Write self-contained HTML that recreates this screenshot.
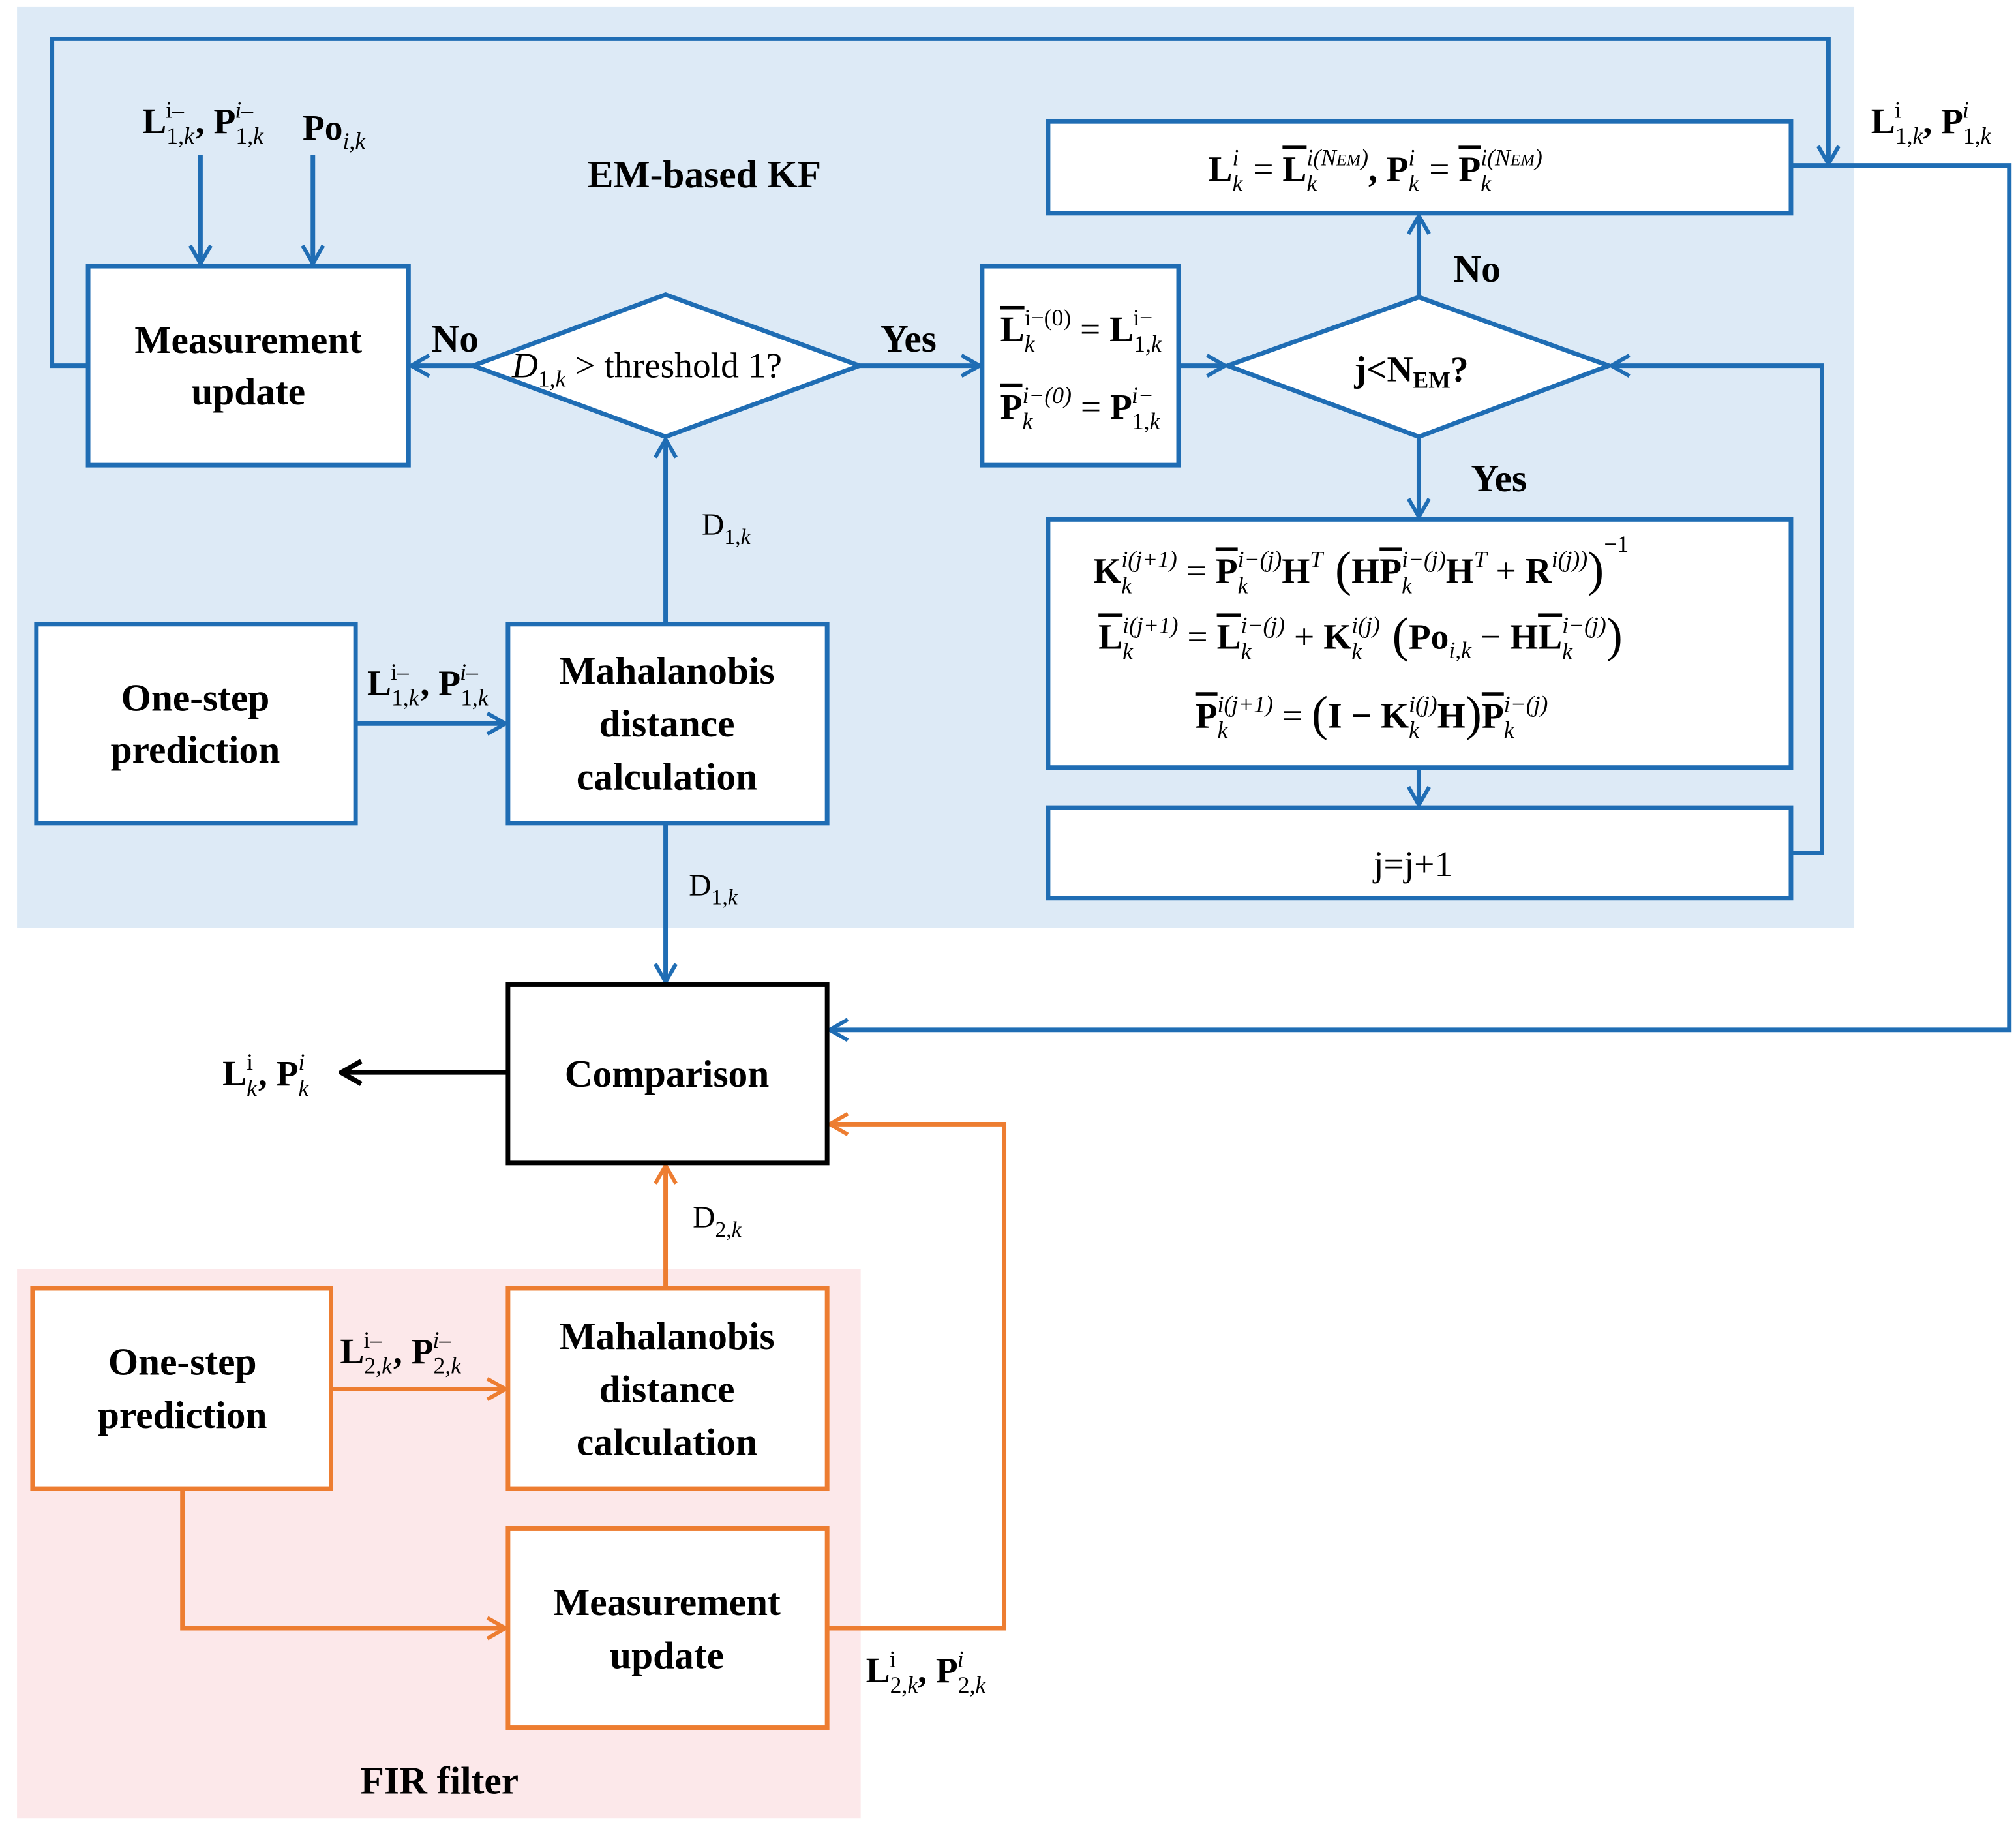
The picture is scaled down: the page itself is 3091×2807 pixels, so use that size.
<!DOCTYPE html>
<html><head><meta charset="utf-8"><style>
html,body{margin:0;padding:0;background:#fff}
svg{display:block}
text{font-family:"Liberation Serif",serif;fill:#000}
.b{font-weight:bold}
.lbl{font-weight:bold;font-size:30px;text-anchor:middle}
.i{font-style:italic}
.ov{text-decoration:overline}
.s{font-size:18px;font-weight:normal}
</style></head><body>
<svg width="3091" height="2807" viewBox="0 0 1560 1417" xmlns="http://www.w3.org/2000/svg">
<defs>
<marker id="ab" viewBox="0 0 20 20" refX="18" refY="10" markerWidth="20" markerHeight="20" markerUnits="userSpaceOnUse" orient="auto"><polyline points="4,2 18,10 4,18" fill="none" stroke="#1f6db4" stroke-width="3"/></marker>
<marker id="ao" viewBox="0 0 20 20" refX="18" refY="10" markerWidth="20" markerHeight="20" markerUnits="userSpaceOnUse" orient="auto"><polyline points="4,2 18,10 4,18" fill="none" stroke="#ed7d31" stroke-width="3"/></marker>
<marker id="ak" viewBox="0 0 20 20" refX="18" refY="10" markerWidth="22" markerHeight="22" markerUnits="userSpaceOnUse" orient="auto"><polyline points="4,2 18,10 4,18" fill="none" stroke="#000" stroke-width="3.5"/></marker>
</defs>
<rect x="13" y="5" width="1422" height="713" fill="#ddeaf6"/>
<rect x="13" y="982" width="653" height="425" fill="#fce8ea"/>

<g fill="none" stroke="#1f6db4" stroke-width="3.5">
<rect x="68" y="206" width="248" height="154" fill="#fff"/>
<rect x="760" y="206" width="152" height="154" fill="#fff"/>
<rect x="811" y="94" width="575" height="71" fill="#fff"/>
<rect x="811" y="402" width="575" height="192" fill="#fff"/>
<rect x="811" y="625" width="575" height="70" fill="#fff"/>
<rect x="28" y="483" width="247" height="154" fill="#fff"/>
<rect x="393" y="483" width="247" height="154" fill="#fff"/>
<polygon points="366,283 515,228 665,283 515,338" fill="#fff"/>
<polygon points="950,283 1098,230 1245,283 1098,338" fill="#fff"/>
</g>
<g fill="none" stroke="#1f6db4" stroke-width="3.5">
<line x1="155" y1="120" x2="155" y2="204" marker-end="url(#ab)"/>
<line x1="242" y1="120" x2="242" y2="204" marker-end="url(#ab)"/>
<polyline points="68,283 40,283 40,30 1415,30 1415,127" marker-end="url(#ab)"/>
<line x1="366" y1="283" x2="318" y2="283" marker-end="url(#ab)"/>
<line x1="665" y1="283" x2="758" y2="283" marker-end="url(#ab)"/>
<line x1="912" y1="283" x2="948" y2="283" marker-end="url(#ab)"/>
<line x1="1098" y1="230" x2="1098" y2="167" marker-end="url(#ab)"/>
<line x1="1098" y1="338" x2="1098" y2="400" marker-end="url(#ab)"/>
<line x1="1098" y1="594" x2="1098" y2="623" marker-end="url(#ab)"/>
<polyline points="1386,660 1410,660 1410,283 1247,283" marker-end="url(#ab)"/>
<polyline points="1386,128 1555,128 1555,797 642,797" marker-end="url(#ab)"/>
<line x1="275" y1="560" x2="391" y2="560" marker-end="url(#ab)"/>
<line x1="515" y1="483" x2="515" y2="340" marker-end="url(#ab)"/>
<line x1="515" y1="637" x2="515" y2="760" marker-end="url(#ab)"/>
</g>
<g fill="none" stroke="#ed7d31" stroke-width="3.5">
<rect x="25" y="997" width="231" height="155" fill="#fff"/>
<rect x="393" y="997" width="247" height="155" fill="#fff"/>
<rect x="393" y="1183" width="247" height="154" fill="#fff"/>
<line x1="515" y1="997" x2="515" y2="902" marker-end="url(#ao)"/>
<line x1="256" y1="1075" x2="391" y2="1075" marker-end="url(#ao)"/>
<polyline points="141,1152 141,1260 391,1260" marker-end="url(#ao)"/>
<polyline points="640,1260 777,1260 777,870 642,870" marker-end="url(#ao)"/>
</g>
<rect x="393" y="762" width="247" height="138" fill="#fff" stroke="#000" stroke-width="3.5"/>
<line x1="393" y1="830" x2="264" y2="830" stroke="#000" stroke-width="3.5" marker-end="url(#ak)"/>

<text class="lbl" x="192" y="273">Measurement</text>
<text class="lbl" x="192" y="313">update</text>
<text class="lbl" x="151" y="550">One-step</text>
<text class="lbl" x="151" y="590">prediction</text>
<text class="lbl" x="516" y="529">Mahalanobis</text>
<text class="lbl" x="516" y="570">distance</text>
<text class="lbl" x="516" y="611">calculation</text>
<text class="lbl" x="516" y="841">Comparison</text>
<text class="lbl" x="141" y="1064">One-step</text>
<text class="lbl" x="141" y="1105">prediction</text>
<text class="lbl" x="516" y="1044">Mahalanobis</text>
<text class="lbl" x="516" y="1085">distance</text>
<text class="lbl" x="516" y="1126">calculation</text>
<text class="lbl" x="516" y="1250">Measurement</text>
<text class="lbl" x="516" y="1291">update</text>
<text class="lbl" x="545" y="145" font-size="28">EM-based KF</text>
<text class="lbl" x="340" y="1388" font-size="28">FIR filter</text>
<text class="lbl" x="352" y="272" font-size="28">No</text>
<text class="lbl" x="703" y="272" font-size="28">Yes</text>
<text class="lbl" x="1143" y="218" font-size="28">No</text>
<text class="lbl" x="1160" y="380" font-size="28">Yes</text>

<text x="396" y="292" font-size="28"><tspan class="i">D</tspan><tspan font-size="18" dy="7">1,<tspan class="i">k</tspan></tspan><tspan dy="-7"> &gt; threshold 1?</tspan></text>
<text x="1048" y="295" font-size="28" class="b">j&lt;N<tspan font-size="18" dy="5">EM</tspan><tspan dy="-5">?</tspan></text>
<text x="1063" y="678" font-size="28">j=j+1</text>

<text x="543" y="414" font-size="24">D<tspan font-size="17" dy="7">1,<tspan class="i">k</tspan></tspan></text>
<text x="533" y="693" font-size="24">D<tspan font-size="17" dy="7">1,<tspan class="i">k</tspan></tspan></text>
<text x="536" y="950" font-size="24">D<tspan font-size="17" dy="7">2,<tspan class="i">k</tspan></tspan></text>

<g font-size="28" class="b">
<text x="110" y="103">L<tspan class="s" dy="8">1,<tspan class="i">k</tspan></tspan><tspan class="s" dx="-22" dy="-20">i–</tspan><tspan dx="9" dy="12">, P</tspan><tspan class="s" dy="8">1,<tspan class="i">k</tspan></tspan><tspan class="s i" dx="-22" dy="-20">i–</tspan></text>
<text x="234" y="108">Po<tspan class="s" dy="7"><tspan class="i">i</tspan>,<tspan class="i">k</tspan></tspan></text>
<text x="1448" y="103">L<tspan class="s" dy="8">1,<tspan class="i">k</tspan></tspan><tspan class="s" dx="-22" dy="-20">i</tspan><tspan dx="17" dy="12">, P</tspan><tspan class="s" dy="8">1,<tspan class="i">k</tspan></tspan><tspan class="s i" dx="-22" dy="-20">i</tspan></text>
<text x="284" y="538">L<tspan class="s" dy="8">1,<tspan class="i">k</tspan></tspan><tspan class="s" dx="-22" dy="-20">i–</tspan><tspan dx="9" dy="12">, P</tspan><tspan class="s" dy="8">1,<tspan class="i">k</tspan></tspan><tspan class="s i" dx="-22" dy="-20">i–</tspan></text>
<text x="263" y="1055">L<tspan class="s" dy="8">2,<tspan class="i">k</tspan></tspan><tspan class="s" dx="-22" dy="-20">i–</tspan><tspan dx="9" dy="12">, P</tspan><tspan class="s" dy="8">2,<tspan class="i">k</tspan></tspan><tspan class="s i" dx="-22" dy="-20">i–</tspan></text>
<text x="670" y="1302">L<tspan class="s" dy="8">2,<tspan class="i">k</tspan></tspan><tspan class="s" dx="-22" dy="-20">i</tspan><tspan dx="17" dy="12">, P</tspan><tspan class="s" dy="8">2,<tspan class="i">k</tspan></tspan><tspan class="s i" dx="-22" dy="-20">i</tspan></text>
<text x="172" y="840">L<tspan class="s i" dy="8">k</tspan><tspan class="s" dx="-8" dy="-20">i</tspan><tspan dx="4" dy="12">, P</tspan><tspan class="s i" dy="8">k</tspan><tspan class="s i" dx="-8" dy="-20">i</tspan></text>

<text x="774" y="264"><tspan class="ov">L</tspan><tspan class="s i" dy="8">k</tspan><tspan class="s" dx="-8" dy="-20">i−(0)</tspan><tspan dy="12" font-weight="normal"> = </tspan><tspan>L</tspan><tspan class="s" dy="8">1,<tspan class="i">k</tspan></tspan><tspan class="s" dx="-22" dy="-20">i−</tspan></text>
<text x="774" y="324"><tspan class="ov">P</tspan><tspan class="s i" dy="8">k</tspan><tspan class="s i" dx="-8" dy="-20">i−(0)</tspan><tspan dy="12" font-weight="normal"> = </tspan><tspan>P</tspan><tspan class="s" dy="8">1,<tspan class="i">k</tspan></tspan><tspan class="s i" dx="-22" dy="-20">i−</tspan></text>

<text x="935" y="140">L<tspan class="s i" dy="8">k</tspan><tspan class="s i" dx="-8" dy="-20">i</tspan><tspan dx="4" dy="12" font-weight="normal"> = </tspan><tspan class="ov">L</tspan><tspan class="s i" dy="8">k</tspan><tspan class="s i" dx="-8" dy="-20">i(N<tspan font-size="13">EM</tspan>)</tspan><tspan dy="12">, P</tspan><tspan class="s i" dy="8">k</tspan><tspan class="s i" dx="-8" dy="-20">i</tspan><tspan dx="4" dy="12" font-weight="normal"> = </tspan><tspan class="ov">P</tspan><tspan class="s i" dy="8">k</tspan><tspan class="s i" dx="-8" dy="-20">i(N<tspan font-size="13">EM</tspan>)</tspan></text>

<text x="846" y="451">K<tspan class="s i" dy="8">k</tspan><tspan class="s i" dx="-8" dy="-20">i(j+1)</tspan><tspan dy="12" font-weight="normal"> = </tspan><tspan class="ov">P</tspan><tspan class="s i" dy="8">k</tspan><tspan class="s i" dx="-8" dy="-20">i−(j)</tspan><tspan dy="12">H</tspan><tspan class="s i" dy="-12">T</tspan><tspan dy="14" font-weight="normal" font-size="38"> (</tspan><tspan dy="-2">H</tspan><tspan class="ov">P</tspan><tspan class="s i" dy="8">k</tspan><tspan class="s i" dx="-8" dy="-20">i−(j)</tspan><tspan dy="12">H</tspan><tspan class="s i" dy="-12">T</tspan><tspan dy="12" font-weight="normal"> + </tspan><tspan>R</tspan><tspan class="s i" dy="-12">i(j))</tspan><tspan dy="14" font-weight="normal" font-size="38">)</tspan><tspan class="s" dy="-26">−1</tspan></text>
<text x="850" y="502"><tspan class="ov">L</tspan><tspan class="s i" dy="8">k</tspan><tspan class="s i" dx="-8" dy="-20">i(j+1)</tspan><tspan dy="12" font-weight="normal"> = </tspan><tspan class="ov">L</tspan><tspan class="s i" dy="8">k</tspan><tspan class="s i" dx="-8" dy="-20">i−(j)</tspan><tspan dy="12" font-weight="normal"> + </tspan><tspan>K</tspan><tspan class="s i" dy="8">k</tspan><tspan class="s i" dx="-8" dy="-20">i(j)</tspan><tspan dy="14" font-weight="normal" font-size="38"> (</tspan><tspan dy="-2">Po</tspan><tspan class="s i" dy="7">i,k</tspan><tspan dy="-7" font-weight="normal"> − </tspan><tspan>H</tspan><tspan class="ov">L</tspan><tspan class="s i" dy="8">k</tspan><tspan class="s i" dx="-8" dy="-20">i−(j)</tspan><tspan dy="14" font-weight="normal" font-size="38">)</tspan></text>
<text x="925" y="563"><tspan class="ov">P</tspan><tspan class="s i" dy="8">k</tspan><tspan class="s i" dx="-8" dy="-20">i(j+1)</tspan><tspan dy="12" font-weight="normal"> = </tspan><tspan font-weight="normal" font-size="38" dy="2">(</tspan><tspan dy="-2">I − K</tspan><tspan class="s i" dy="8">k</tspan><tspan class="s i" dx="-8" dy="-20">i(j)</tspan><tspan dy="12">H</tspan><tspan font-weight="normal" font-size="38" dy="2">)</tspan><tspan class="ov" dy="-2">P</tspan><tspan class="s i" dy="8">k</tspan><tspan class="s i" dx="-8" dy="-20">i−(j)</tspan></text>
</g>
</svg>
</body></html>
